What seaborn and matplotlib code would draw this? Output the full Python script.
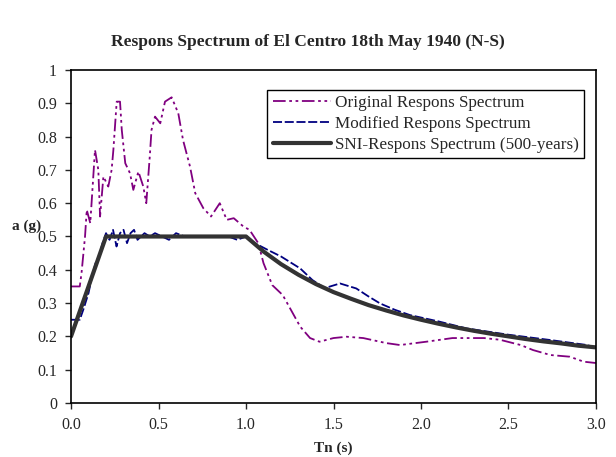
import seaborn as sns
import matplotlib.pyplot as plt
import matplotlib.ticker as mticker

# period (s) and spectral acceleration (g)
t_orig = [0.0, 0.05, 0.06, 0.08, 0.09, 0.11, 0.137, 0.156, 0.166, 0.185, 0.213, 0.232, 0.242,
          0.261, 0.28, 0.29, 0.31, 0.337, 0.356, 0.385, 0.413, 0.43, 0.45, 0.46, 0.48, 0.51,
          0.537, 0.575, 0.613, 0.64, 0.68, 0.71, 0.756, 0.80, 0.85, 0.89, 0.93, 0.985, 1.02,
          1.07, 1.10, 1.15, 1.21, 1.31, 1.366, 1.42, 1.50, 1.575, 1.67, 1.80, 1.88, 2.03, 2.18,
          2.36, 2.45, 2.57, 2.64, 2.74, 2.85, 2.93, 3.0]
a_orig = [0.35, 0.35, 0.39, 0.50, 0.58, 0.54, 0.76, 0.70, 0.56, 0.68, 0.65, 0.70, 0.76,
          0.905, 0.905, 0.82, 0.72, 0.69, 0.64, 0.695, 0.65, 0.60, 0.74, 0.82, 0.86, 0.84,
          0.905, 0.918, 0.87, 0.79, 0.71, 0.63, 0.585, 0.56, 0.60, 0.55, 0.555, 0.53, 0.52,
          0.48, 0.42, 0.354, 0.324, 0.229, 0.195, 0.184, 0.195, 0.199, 0.195, 0.18, 0.174, 0.184, 0.195,
          0.195, 0.19, 0.174, 0.159, 0.144, 0.139, 0.124, 0.12]

t_mod = [0.0, 0.05, 0.07, 0.10, 0.12, 0.14, 0.16, 0.18, 0.20, 0.22, 0.24, 0.26, 0.28, 0.30,
         0.32, 0.34, 0.36, 0.38, 0.40, 0.42, 0.45, 0.48, 0.52, 0.56, 0.60, 0.65, 0.70, 0.75,
         0.80, 0.85, 0.90, 0.95, 1.00, 1.05, 1.127, 1.2, 1.31, 1.38, 1.45, 1.537, 1.63, 1.70,
         1.766, 1.85, 1.937, 2.1, 2.26, 2.5, 2.74, 2.95, 3.0]
a_mod = [0.25, 0.25, 0.28, 0.33, 0.38, 0.42, 0.44, 0.48, 0.51, 0.49, 0.52, 0.47, 0.51, 0.52,
         0.48, 0.51, 0.52, 0.49, 0.50, 0.51, 0.50, 0.51, 0.50, 0.49, 0.51, 0.50, 0.50, 0.50,
         0.50, 0.50, 0.50, 0.49, 0.50, 0.48, 0.459, 0.44, 0.404, 0.369, 0.345, 0.359, 0.344, 0.32,
         0.299, 0.28, 0.264, 0.245, 0.224, 0.205, 0.189, 0.174, 0.165]

t_sni = [0.0, 0.2, 1.0, 1.1, 1.2, 1.3, 1.4, 1.5, 1.6, 1.7, 1.8, 1.9, 2.0, 2.1, 2.2, 2.3,
         2.4, 2.5, 2.6, 2.7, 2.8, 2.9, 3.0]
a_sni = [0.2, 0.5, 0.5, 0.455, 0.417, 0.385, 0.357, 0.333, 0.313, 0.294, 0.278, 0.263, 0.25,
         0.238, 0.227, 0.217, 0.208, 0.2, 0.192, 0.185, 0.179, 0.172, 0.167]

sns.set_style('white')
plt.rcParams['font.family'] = ['Liberation Serif', 'DejaVu Serif']

fig = plt.figure(figsize=(6.16, 4.57), dpi=100)
ax = fig.add_axes([0.1153, 0.1182, 0.8522, 0.7286])

sns.lineplot(x=t_orig, y=a_orig, ax=ax, color='#800080', linewidth=1.3, sort=False,
             linestyle=(0, (7, 2, 1.5, 2, 1.5, 2)), label='Original Respons Spectrum')
sns.lineplot(x=t_mod, y=a_mod, ax=ax, color='#000080', linewidth=1.3, sort=False,
             linestyle=(0, (5, 1.5)), label='Modified Respons Spectrum')
sns.lineplot(x=t_sni, y=a_sni, ax=ax, color='#333333', linewidth=3, sort=False,
             label='SNI-Respons Spectrum (500-years)')

ax.set_xlim(0, 3)
ax.set_ylim(0, 1)
ax.xaxis.set_major_locator(mticker.MultipleLocator(0.5))
ax.xaxis.set_major_formatter(mticker.FormatStrFormatter('%.1f'))
ax.yaxis.set_major_locator(mticker.MultipleLocator(0.1))
ax.yaxis.set_major_formatter(mticker.FuncFormatter(lambda v, p: f'{v:g}'))
ax.tick_params(axis='both', direction='out', length=4, width=1, labelsize=11.5,
               left=True, bottom=True, pad=6)
for s in ax.spines.values():
    s.set_color('black')
    s.set_linewidth(1.2)

ax.set_xlabel('Tn (s)', fontweight='bold', fontsize=11, labelpad=6)
ax.set_ylabel('a (g)', fontweight='bold', fontsize=11, rotation=0, labelpad=4)
ax.yaxis.set_label_coords(-0.085, 0.51)
fig.suptitle('Respons Spectrum of El Centro 18th May 1940 (N-S)', fontweight='bold',
             fontsize=12.5, y=0.925)

leg = ax.legend(loc='upper right', bbox_to_anchor=(0.977, 0.94), fontsize=12.3,
                frameon=True, fancybox=False, framealpha=1, edgecolor='black',
                handlelength=3.4, handletextpad=0.25, labelspacing=0.28, borderpad=0.3,
                borderaxespad=0)
leg.get_frame().set_linewidth(1.0)

fig.savefig('out.png', dpi=100)
